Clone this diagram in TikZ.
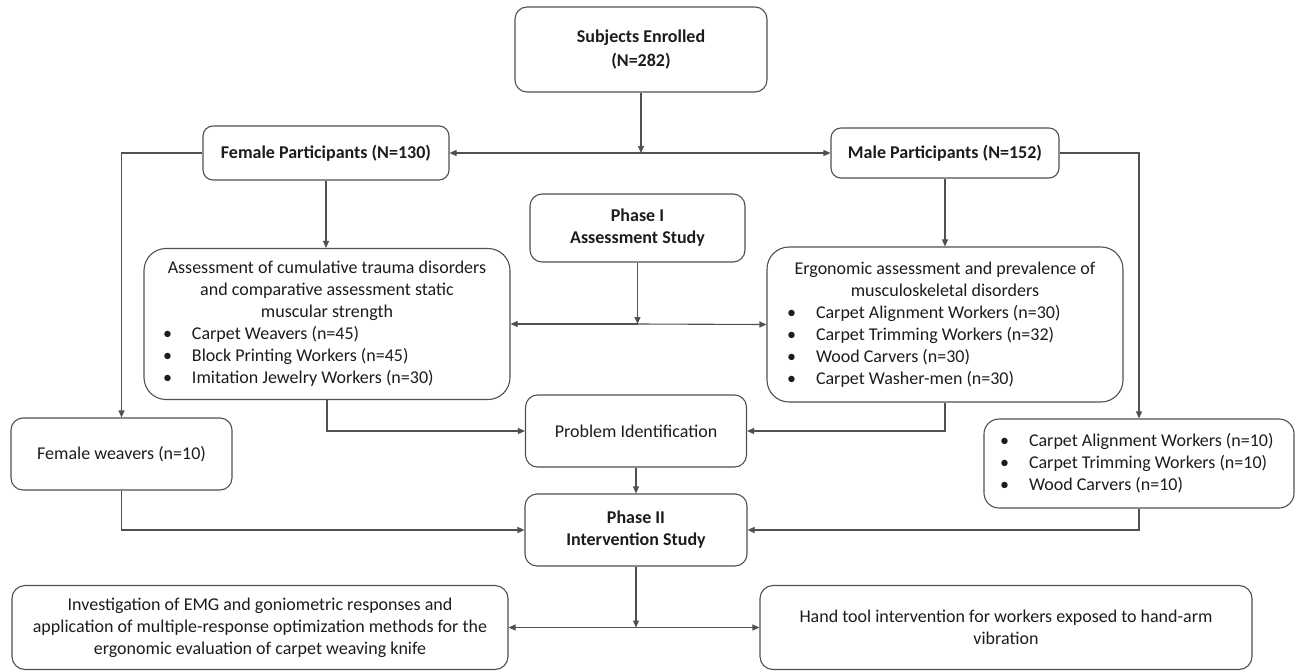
\documentclass[tikz,border=0pt]{standalone}
\usepackage{fontspec}
\setmainfont{Carlito}
\usetikzlibrary{arrows.meta}
\definecolor{linegray}{RGB}{80,80,80}
\definecolor{textdark}{RGB}{28,28,28}
% bullet item with a fixed hanging indent
\newcommand\bul{\makebox[29pt][l]{\textbullet}}
% centred line that may overhang its column evenly
\newcommand\ctr[1]{\makebox[0pt]{#1}}
\begin{document}
\begin{tikzpicture}[x=1pt,y=-1pt,
  box/.style={draw=linegray, line width=1.1pt, rounded corners=#1, inner sep=0pt,
    align=center, text=textdark, font=\fontsize{18}{22}\selectfont},
  box/.default=11pt,
  conn/.style={draw=linegray, line width=1.1pt},
  arr/.style={conn, -{Triangle[length=7pt,width=6pt]}}]
\useasboundingbox (0,0) rectangle (1296,672);

% ---- boxes ----
\node[box=12pt, minimum width=252pt, minimum height=85pt] (subj) at (641,49.5)
  {\textbf{Subjects Enrolled}\\[2pt]\textbf{(N=282)}};
\node[box=10pt, minimum width=246pt, minimum height=54pt] (fem) at (326,153)
  {\textbf{Female Participants (N=130)}};
\node[box=10pt, minimum width=228pt, minimum height=50pt] (male) at (945,153)
  {\textbf{Male Participants (N=152)}};
\node[box=12pt, minimum width=215pt, minimum height=68pt] (ph1) at (637.5,228)
  {\textbf{Phase I}\\\textbf{Assessment Study}};
\node[box=22pt, minimum width=366pt, minimum height=151pt] (cta) at (327,324)
  {\begin{minipage}{328pt}\centering
   \ctr{Assessment of cumulative trauma disorders}\\
   \ctr{and comparative assessment static}\\
   \ctr{muscular strength}\par
   \raggedright
   \bul Carpet Weavers (n=45)\\
   \bul Block Printing Workers (n=45)\\
   \bul Imitation Jewelry Workers (n=30)\par
   \end{minipage}};
\node[box=22pt, minimum width=356pt, minimum height=155pt] (erg) at (945,324.5)
  {\begin{minipage}{316pt}\centering
   \ctr{Ergonomic assessment and prevalence of}\\
   \ctr{musculoskeletal disorders}\par
   \raggedright
   \bul Carpet Alignment Workers (n=30)\\
   \bul Carpet Trimming Workers (n=32)\\
   \bul Wood Carvers (n=30)\\
   \bul Carpet Washer-men (n=30)\par
   \end{minipage}};
\node[box=12pt, minimum width=221pt, minimum height=72pt] (pi) at (636,431)
  {Problem Identification};
\node[box=12pt, minimum width=221pt, minimum height=72pt] (fw) at (121.5,454)
  {Female weavers (n=10)};
\node[box=15pt, minimum width=310pt, minimum height=89pt] (msel) at (1139,463.5)
  {\begin{minipage}{278pt}\raggedright
   \bul\mbox{Carpet Alignment Workers (n=10)}\\
   \bul Carpet Trimming Workers (n=10)\\
   \bul Wood Carvers (n=10)\par
   \end{minipage}};
\node[box=12pt, minimum width=222pt, minimum height=72pt] (ph2) at (636,530)
  {\textbf{Phase II}\\\textbf{Intervention Study}};
\node[box=13pt, minimum width=496pt, minimum height=84pt] (emg) at (260,627.5)
  {Investigation of EMG and goniometric responses and\\
   application of multiple-response optimization methods for the\\
   ergonomic evaluation of carpet weaving knife};
\node[box=13pt, minimum width=492pt, minimum height=84pt] (hand) at (1006,627.5)
  {Hand tool intervention for workers exposed to hand-arm\\vibration};

% ---- junction points ----
\coordinate (j1) at (subj.south |- fem.east);
\coordinate (j2) at (ph1.south |- cta.east);
\coordinate (j3) at (ph2.south |- emg.east);

% ---- connectors ----
\draw[arr] (subj.south) -- (j1);
\draw[arr] (j1) -- (fem.east);
\draw[arr] (j1) -- (male.west);
\draw[arr] (fem.west) -| (fw.north);
\draw[arr] (fem.south) -- (fem.south |- cta.north);
\draw[arr] (male.south) -- (erg.north);
\draw[arr] (male.east) -| (msel.north);
\draw[arr] (ph1.south) -- (j2);
\draw[arr] (j2) -- (cta.east);
\draw[arr] (j2) -- (erg.west);
\draw[arr] (cta.south) |- (pi.west);
\draw[arr] (erg.south) |- (pi.east);
\draw[arr] (pi.south) -- (ph2.north);
\draw[arr] (fw.south) |- (ph2.west);
\draw[arr] (msel.south) |- (ph2.east);
\draw[arr] (ph2.south) -- (j3);
\draw[arr] (j3) -- (emg.east);
\draw[arr] (j3) -- (hand.west);
\end{tikzpicture}
\end{document}
